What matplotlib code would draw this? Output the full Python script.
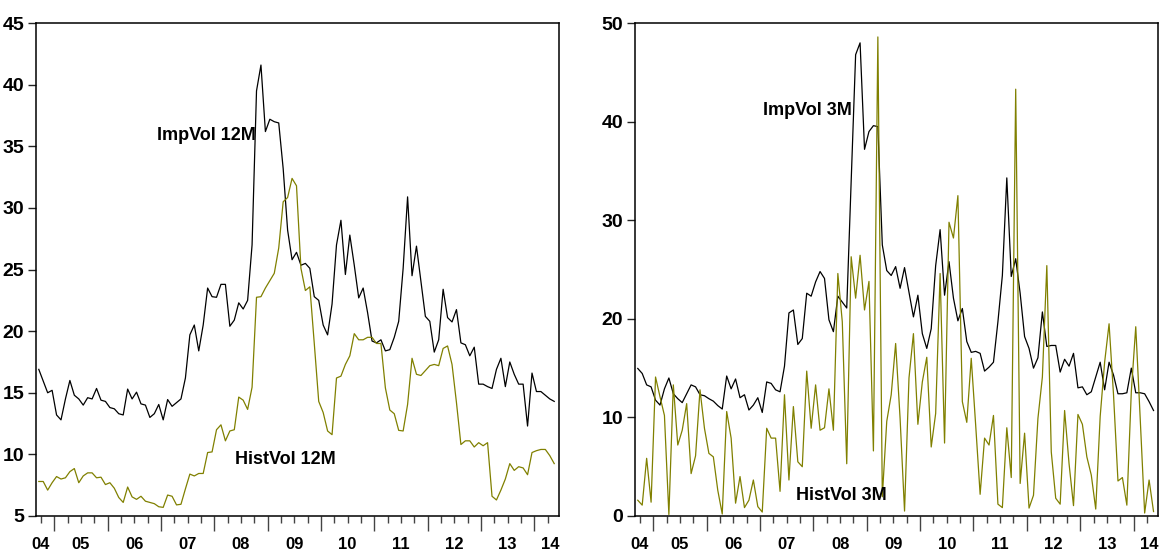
import numpy as np
import matplotlib
matplotlib.use('Agg')
from matplotlib import pyplot as plt
from matplotlib import font_manager
from matplotlib.ticker import MultipleLocator, FixedLocator, NullFormatter
import matplotlib.transforms as mtransforms

# monthly observations, Sep 2004 .. May 2014
imp_vol_12m = [
    16.9, 15.95, 15.0, 15.2, 13.2, 12.8, 14.5, 16.0, 14.8, 14.5,
    14.0, 14.6, 14.5, 15.35, 14.4, 14.3, 13.8, 13.7, 13.3, 13.2,
    15.3, 14.5, 15.05, 14.1, 14.0, 13.0, 13.3, 14.05, 12.8, 14.45,
    13.9, 14.2, 14.5, 16.2, 19.7, 20.5, 18.4, 20.5, 23.5, 22.8,
    22.75, 23.8, 23.8, 20.4, 20.9, 22.3, 21.8, 22.5, 27.0, 39.5,
    41.6, 36.2, 37.2, 37.0, 36.9, 33.2, 28.2,
    25.8, 26.4, 25.35, 25.5, 25.1, 22.8, 22.5, 20.5, 19.7, 22.2,
    27.0, 29.0, 24.6, 27.8, 25.35, 22.7, 23.5, 21.5, 19.2, 19.05,
    19.3, 18.4, 18.5, 19.5, 20.8, 25.1, 30.9, 24.5, 26.9, 24.05,
    21.2, 20.8, 18.3, 19.3, 23.4, 21.1, 20.75, 21.75, 19.05, 18.9,
    18.0, 18.7, 15.7, 15.7, 15.5, 15.35, 16.9, 17.8, 15.5, 17.5,
    16.5, 15.7, 15.7, 12.3, 16.6, 15.1, 15.1, 14.8, 14.5, 14.3,
]
hist_vol_12m = [
    7.8, 7.8, 7.1, 7.7, 8.2, 8.0, 8.1, 8.6, 8.85, 7.7,
    8.25, 8.5, 8.5, 8.1, 8.15, 7.55, 7.7, 7.25, 6.5, 6.1,
    7.35, 6.55, 6.35, 6.6, 6.2, 6.1, 6.0, 5.75, 5.7, 6.7,
    6.6, 5.9, 5.95, 7.2, 8.4, 8.25, 8.45, 8.45, 10.15, 10.2,
    12.0, 12.4, 11.1, 11.9, 12.0, 14.65, 14.4, 13.65, 15.45, 22.75,
    22.8, 23.5, 24.1, 24.7, 26.75, 30.5, 30.85,
    32.4, 31.8, 25.1, 23.3, 23.6, 19.0, 14.3, 13.4, 11.9, 11.6,
    16.2, 16.35, 17.3, 18.0, 19.8, 19.3, 19.3, 19.5, 19.5, 19.0,
    19.0, 15.4, 13.6, 13.3, 11.95, 11.9, 14.05, 17.8, 16.5, 16.4,
    16.8, 17.2, 17.3, 17.2, 18.6, 18.8, 17.3, 14.2, 10.8, 11.1,
    11.1, 10.6, 10.95, 10.7, 10.95, 6.6, 6.3, 7.1, 8.0, 9.25,
    8.7, 9.0, 8.9, 8.35, 10.15, 10.3, 10.4, 10.4, 9.9, 9.25,
]
imp_vol_3m = [
    14.97, 14.46, 13.3, 13.1, 11.75, 11.25, 12.9, 14.0, 12.4, 11.9,
    11.5, 12.4, 13.3, 13.1, 12.3, 12.2, 11.9, 11.65, 11.2, 10.85,
    14.2, 12.9, 13.9, 12.0, 12.3, 10.75, 11.25, 12.0, 10.5, 13.6,
    13.45, 12.8, 12.6, 15.2, 20.6, 20.9, 17.4, 18.0, 22.6, 22.3,
    23.75, 24.8, 24.1, 19.9, 18.7, 22.3, 21.7, 21.1, 34.0, 46.8,
    48.0, 37.2, 39.0, 39.6, 39.5, 27.5, 24.9, 24.4, 25.3, 23.1,
    25.2, 22.7, 20.2, 22.4, 18.5, 17.0, 19.0, 25.4, 29.05, 22.4,
    25.8, 22.1, 19.8, 21.05, 17.7, 16.6, 16.7, 16.5, 14.7, 15.1,
    15.6, 19.7, 24.4, 34.3, 24.3, 26.1, 22.6, 18.2, 17.0, 15.0,
    16.05, 20.7, 17.2, 17.3, 17.3, 14.6, 15.9, 15.2, 16.5, 13.0,
    13.1, 12.3, 12.6, 14.1, 15.6, 12.8, 15.6, 14.3, 12.4, 12.4,
    12.5, 15.0, 12.5, 12.5, 12.4, 11.6, 10.7,
]
hist_vol_3m = [
    1.6, 1.1, 5.85, 1.4, 14.1, 12.1, 10.2, 0.15, 13.3, 7.2,
    8.7, 11.4, 4.3, 6.1, 12.8, 8.9, 6.35, 6.0, 2.6, 0.2,
    10.6, 7.9, 1.3, 4.0, 0.85, 1.6, 3.65, 0.95, 0.4, 8.9,
    7.9, 7.9, 2.5, 12.3, 3.65, 11.1, 5.5, 5.0, 14.7, 8.9,
    13.3, 8.7, 8.95, 12.9, 8.7, 24.6, 19.7, 5.3, 26.3, 22.1,
    26.45, 20.9, 23.8, 6.6, 48.6, 1.95, 9.6, 12.3, 17.5, 9.9,
    0.5, 14.0, 18.5, 9.3, 13.6, 16.1, 7.0, 10.4, 24.6, 7.4,
    29.8, 28.2, 32.5, 11.6, 9.5, 16.0, 9.2, 2.2, 7.9, 7.2,
    10.2, 1.2, 0.85, 8.95, 3.9, 43.3, 3.3, 8.4, 0.8, 2.1,
    9.9, 14.1, 25.4, 6.5, 1.8, 1.2, 10.7, 5.3, 1.05, 10.3,
    9.3, 6.0, 4.15, 0.7, 10.1, 15.6, 19.5, 12.3, 3.55, 3.9,
    1.1, 12.6, 19.2, 9.9, 0.3, 3.65, 0.45,
]

year_labels = ['04', '05', '06', '07', '08', '09', '10', '11', '12', '13', '14']
year_label_pos = [2004.75, 2005.5, 2006.5, 2007.5, 2008.5, 2009.5,
                  2010.5, 2011.5, 2012.5, 2013.5, 2014.3]

olive = '#808000'

names = {f.name for f in font_manager.fontManager.ttflist}
if 'Liberation Sans Narrow' in names:
    font_family = 'Liberation Sans Narrow'
    sizes = dict(tick=15, year=13, label=15)
else:
    font_family = 'Liberation Sans'
    sizes = dict(tick=14, year=12, label=13)


def bold(size):
    return font_manager.FontProperties(family=font_family, weight='bold', size=size)


def time_axis(n):
    months = np.arange(n)
    return 2004 + (8.5 + months) / 12.0


def style_panel(ax, ylim, ystep):
    ax.set_xlim(2004.657, 2014.46)
    ax.set_ylim(*ylim)
    ax.yaxis.set_major_locator(MultipleLocator(ystep))
    ax.xaxis.set_major_locator(FixedLocator(np.arange(2005, 2015)))
    ax.xaxis.set_minor_locator(FixedLocator(np.arange(2004.75, 2014.5, 0.25)))
    ax.xaxis.set_major_formatter(NullFormatter())
    ax.tick_params(axis='x', which='major', direction='out', length=11,
                   width=1, color='#444444')
    ax.tick_params(axis='x', which='minor', direction='out', length=5,
                   width=1, color='#444444')
    ax.tick_params(axis='y', which='major', direction='out', length=6,
                   width=1, color='#222222', pad=2.5)
    for lab in ax.get_yticklabels():
        lab.set_fontproperties(bold(sizes['tick']))
    for sp in ax.spines.values():
        sp.set_linewidth(1.1)
        sp.set_color('black')
    trans = mtransforms.blended_transform_factory(ax.transData, ax.transAxes)
    for pos, lab in zip(year_label_pos, year_labels):
        ax.text(pos, -0.057, lab, transform=trans, ha='center', va='center',
                fontproperties=bold(sizes['year']))


fig = plt.figure(figsize=(11.59, 5.55), dpi=100)
ax1 = fig.add_axes([0.0311, 0.0703, 0.451, 0.888])
ax2 = fig.add_axes([0.5479, 0.0703, 0.4513, 0.888])

x12 = time_axis(len(imp_vol_12m))
ax1.plot(x12, imp_vol_12m, color='black', lw=0.9)
ax1.plot(x12, hist_vol_12m, color=olive, lw=0.9)
style_panel(ax1, (5, 45), 5)
ax1.text(2006.93, 35.9, 'ImpVol 12M', ha='left', va='center',
         fontproperties=bold(sizes['label']))
ax1.text(2008.39, 9.55, 'HistVol 12M', ha='left', va='center',
         fontproperties=bold(sizes['label']))

x3 = time_axis(len(imp_vol_3m))
ax2.plot(x3, imp_vol_3m, color='black', lw=0.9)
ax2.plot(x3, hist_vol_3m, color=olive, lw=0.9)
style_panel(ax2, (0, 50), 10)
ax2.text(2007.06, 41.1, 'ImpVol 3M', ha='left', va='center',
         fontproperties=bold(sizes['label']))
ax2.text(2007.68, 2.03, 'HistVol 3M', ha='left', va='center',
         fontproperties=bold(sizes['label']))

fig.savefig('out.png', dpi=100)
